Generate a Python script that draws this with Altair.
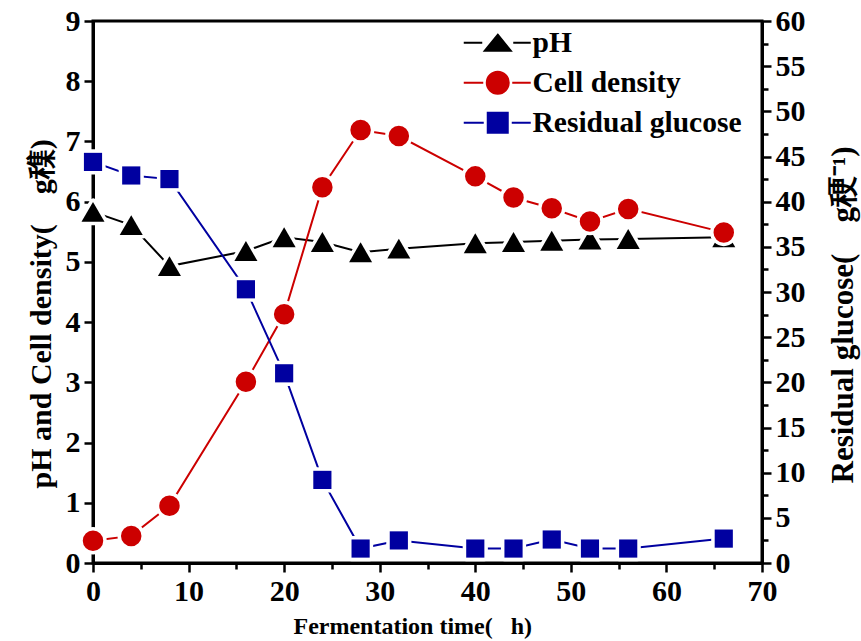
import altair as alt
import pandas as pd

# Fermentation sampling times (h) and measured values
time_h = [0, 4, 8, 16, 20, 24, 28, 32, 40, 44, 48, 52, 56, 66]
ph = [5.83, 5.61, 4.93, 5.18, 5.41, 5.33, 5.16, 5.22, 5.31, 5.33, 5.35, 5.37, 5.38, 5.41]
cell_density = [0.37, 0.45, 0.95, 3.01, 4.13, 6.24, 7.19, 7.09, 6.42, 6.07, 5.89, 5.67, 5.88, 5.49]
residual_glucose = [44.4, 42.9, 42.5, 30.3, 21.0, 9.2, 1.6, 2.5, 1.6, 1.6, 2.6, 1.6, 1.6, 2.7]

series_names = ["pH", "Cell density", "Residual glucose"]
series_colors = ["#000000", "#CC0000", "#0000A0"]

# legend glyphs: dash - marker - dash, in unit symbol coordinates
legend_glyphs = [
    "M-3.4,0H-1.55M1.55,0H3.3M0,-0.8L1.3,0.8H-1.3Z",
    "M-3.4,0H-1.45M1.45,0H3.3M1.1,0A1.1,1.1 0 1,1 -1.1,0A1.1,1.1 0 1,1 1.1,0Z",
    "M-3.4,0H-1.4M1.4,0H3.3M-1,-1H1V1H-1Z",
]

df = pd.DataFrame({
    "time": time_h,
    "ph": ph,
    "cell": cell_density,
    "glucose": residual_glucose,
})

FONT = "Liberation Serif"
NBSP = "\u00a0"

x_axis = alt.Axis(
    values=list(range(0, 71, 5)),
    format="d",
    labelExpr="datum.value % 10 === 0 ? datum.label : ''",
    tickSize={"condition": {"test": "datum.value % 10 === 0", "value": 9}, "value": 6},
    title="Fermentation time(" + NBSP * 3 + "h)",
    titleFontSize=24,
    titleX=200, titleY=63, titleAlign="left", titleBaseline="middle",
    labelPadding=4,
)
x_enc = alt.X("time:Q", scale=alt.Scale(domain=[0, 70], nice=False, zero=False), axis=x_axis)

left_axis = alt.Axis(
    values=[v / 2 for v in range(0, 19)],
    format="d",
    labelExpr="datum.value % 1 === 0 ? datum.label : ''",
    tickSize={"condition": {"test": "datum.value % 1 === 0", "value": 9}, "value": 6},
    title="pH and Cell density(\u3000g\u7a55)",
    titleFontSize=30,
    titleAngle=270, titleX=-52, titleY=467, titleAlign="left", titleBaseline="middle",
    labelPadding=4,
)
left_scale = alt.Scale(domain=[0, 9], nice=False)

right_axis = alt.Axis(
    orient="right",
    values=[v * 2.5 for v in range(0, 25)],
    format="d",
    labelExpr="datum.value % 5 === 0 ? datum.label : ''",
    tickSize={"condition": {"test": "datum.value % 5 === 0", "value": 9}, "value": 6},
    title="Residual glucose(\u3000g\u7a09\u207b\u00b9)",
    titleFontSize=31,
    titleAngle=270, titleX=81, titleY=462, titleAlign="left", titleBaseline="middle",
    labelPadding=4,
)
right_scale = alt.Scale(domain=[0, 60], nice=False)

base = alt.Chart(df)


def series_layers(field, scale, axis, color, shape, size):
    y = alt.Y(f"{field}:Q", scale=scale, axis=axis)
    line = base.mark_line(color=color, strokeWidth=2).encode(x=x_enc, y=y)
    halo = base.mark_point(
        filled=True, shape=shape, size=size, color="white", stroke="white",
        strokeWidth=7, strokeJoin="round", opacity=1,
    ).encode(x=x_enc, y=y)
    pts = base.mark_point(
        filled=True, shape=shape, size=size, color=color, opacity=1, strokeWidth=0,
    ).encode(x=x_enc, y=y)
    return [line, halo, pts]


legend_layer = (
    alt.Chart(pd.DataFrame({"series": series_names}))
    .transform_filter("false")
    .mark_point(filled=True, opacity=1)
    .encode(
        shape=alt.Shape("series:N", scale=alt.Scale(domain=series_names, range=legend_glyphs),
                        legend=alt.Legend(title=None)),
        fill=alt.Fill("series:N", scale=alt.Scale(domain=series_names, range=series_colors),
                      legend=alt.Legend(title=None)),
        stroke=alt.Stroke("series:N", scale=alt.Scale(domain=series_names, range=series_colors),
                          legend=alt.Legend(title=None)),
    )
)

left = alt.layer(
    *series_layers("ph", left_scale, left_axis, series_colors[0], "triangle-up", 530),
    *series_layers("cell", left_scale, left_axis, series_colors[1], "circle", 420),
    legend_layer,
)
right = alt.layer(
    *series_layers("glucose", right_scale, right_axis, series_colors[2], "square", 330),
)

chart = (
    alt.layer(left, right)
    .resolve_scale(y="independent")
    .properties(
        width=669, height=542,
        autosize=alt.AutoSizeParams(type="none"),
        padding={"left": 93, "top": 21, "right": 99, "bottom": 78},
        background="white",
    )
    .configure_view(stroke="black", strokeWidth=3)
    .configure_axis(
        grid=False,
        domainColor="black", domainWidth=3,
        tickColor="black", tickWidth=2.5,
        labelFont=FONT, labelFontSize=30, labelFontWeight="bold", labelColor="black",
        labelFlush=False, labelOverlap=False,
        titleFont=FONT, titleFontWeight="bold", titleColor="black",
    )
    .configure_legend(
        orient="none", legendX=390, legendY=7,
        padding=0, symbolSize=400, symbolStrokeWidth=2,
        labelFont=FONT, labelFontSize=29.5, labelFontWeight="bold", labelColor="black",
        labelOffset=20, rowPadding=9, labelLimit=0,
    )
)

chart.save("out.html", embed_options={"renderer": "svg", "actions": False})
